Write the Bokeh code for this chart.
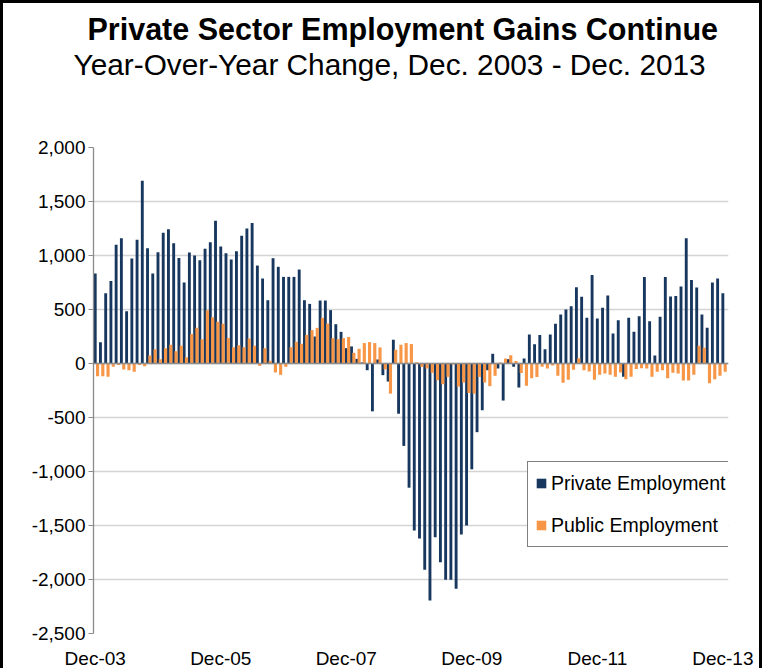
from bokeh.plotting import figure
from bokeh.models import (ColumnDataSource, Range1d, FixedTicker, NumeralTickFormatter,
                          Span, Title, Legend, LegendItem)
from bokeh.transform import dodge
from bokeh.embed import file_html
from bokeh.resources import INLINE

# Months since Dec 2003 (0 = Dec-03 ... 120 = Dec-13)
month_index = list(range(121))

# Year-over-year change, thousands of jobs
private = [
    833, 197, 651, 765, 1099, 1160, 484, 972, 1145, 1691, 1068, 833,
    1031, 1210, 1244, 1114, 978, 750, 1028, 1000, 957, 1062, 1123, 1321,
    1083, 1021, 963, 1040, 1182, 1250, 1302, 907, 787, 586, 975, 895,
    802, 802, 802, 870, 586, 552, 250, 583, 583, 494, 364, 293,
    142, 158, 43, 10, -62, -443, 37, -108, -167, 220, -465, -763,
    -1150, -1547, -1621, -1910, -2195, -1609, -1841, -2003, -2003, -2086, -1584, -1500,
    -980, -636, -433, -62, 90, -46, -343, 40, -31, -222, 46, 269,
    179, 263, 133, 269, 368, 454, 501, 531, 705, 618, 423, 819,
    417, 516, 630, 278, 401, -123, 423, 293, 438, 802, 392, 74,
    432, 802, 620, 626, 713, 1160, 772, 704, 454, 330, 750, 787,
    651,
]
public = [
    -117, -117, -123, -31, -15, -56, -62, -77, -15, -25, 74, 133,
    40, 142, 173, 114, 164, 59, 272, 330, 225, 494, 429, 386,
    367, 235, 151, 170, 151, 231, 164, -22, 142, 25, -83, -105,
    -31, 151, 200, 182, 265, 309, 330, 423, 370, 235, 225, 235,
    245, 99, 136, 189, 198, 189, 149, -53, -279, 127, 174, 189,
    180, 12, -31, -46, -87, -155, -192, -124, -10, -214, -177, -273,
    -279, -124, -176, -210, -114, 10, 46, 77, 22, -87, -207, -136,
    -124, -31, -46, -19, -114, -179, -151, -59, 49, -62, -74, -151,
    -105, -93, -105, -123, -83, -145, -123, -52, -43, -46, -123, -77,
    -62, -136, -86, -93, -157, -157, -105, 164, 145, -182, -145, -114,
    -77,
]

tick_months = [0, 24, 48, 72, 96, 120]
tick_labels = ["Dec-03", "Dec-05", "Dec-07", "Dec-09", "Dec-11", "Dec-13"]
y_ticks = [-2500, -2000, -1500, -1000, -500, 0, 500, 1000, 1500, 2000]
series_names = ["Private Employment", "Public Employment"]
series_colors = ["#17375E", "#F79646"]
title_text = "Private Sector Employment Gains Continue"
subtitle_text = "Year-Over-Year Change, Dec. 2003 - Dec. 2013"

FONT = "Liberation Sans"

src = ColumnDataSource(dict(m=month_index, private=private, public=public))

p = figure(width=762, height=668, output_backend="svg", toolbar_location=None,
           x_range=Range1d(-0.33, 121.08), y_range=Range1d(-2500, 2000),
           min_border_left=90, min_border_right=37, min_border_top=144,
           min_border_bottom=38, background_fill_color="white",
           border_fill_color="white")
p.outline_line_color = None
p.styles = {"border-left": "3px solid black", "border-top": "3px solid black",
            "border-right": "3px solid black"}

r_priv = p.vbar(x=dodge("m", 0.0, range=p.x_range), top="private", bottom=0,
                width=0.55, source=src, fill_color=series_colors[0], line_color=None)
r_pub = p.vbar(x=dodge("m", 0.45, range=p.x_range), top="public", bottom=0,
               width=0.6, source=src, fill_color=series_colors[1], line_color=None)

p.add_layout(Span(location=0, dimension="width", line_color="#8c8c8c", line_width=1.3))

# grid
p.xgrid.visible = False
p.ygrid.ticker = FixedTicker(ticks=y_ticks)
p.ygrid.grid_line_color = "#d4d4d4"
p.ygrid.grid_line_width = 1.3

# y axis
ya = p.yaxis[0]
ya.ticker = FixedTicker(ticks=y_ticks)
ya.formatter = NumeralTickFormatter(format="0,0")
ya.axis_line_color = "#8c8c8c"
ya.axis_line_width = 1.3
ya.major_tick_line_color = "#8c8c8c"
ya.major_tick_out = 5
ya.major_tick_in = 0
ya.minor_tick_line_color = None
ya.major_label_standoff = 3
ya.major_label_text_font = FONT
ya.major_label_text_font_size = "19px"
ya.major_label_text_color = "black"

# x axis
xa = p.xaxis[0]
xa.ticker = FixedTicker(ticks=tick_months)
xa.major_label_overrides = {m: lab for m, lab in zip(tick_months, tick_labels)}
xa.axis_line_color = None
xa.major_tick_line_color = None
xa.minor_tick_line_color = None
xa.major_tick_out = 0
xa.major_tick_in = 0
xa.major_label_standoff = 14
xa.major_label_text_font = FONT
xa.major_label_text_font_size = "19px"
xa.major_label_text_color = "black"

legend = Legend(items=[LegendItem(label=series_names[0], renderers=[r_priv]),
                       LegendItem(label=series_names[1], renderers=[r_pub])],
                location=(434, 86), orientation="vertical",
                border_line_color="black", border_line_width=1,
                background_fill_color="white", background_fill_alpha=1.0,
                label_text_font=FONT, label_text_font_size="19.5px",
                label_text_color="black",
                glyph_width=12, glyph_height=12, label_standoff=4,
                padding=7, spacing=14, label_height=28, margin=0)
p.add_layout(legend)

# panels above the plot: the one added first sits closest to the plot
p.add_layout(Title(text=" ", text_font=FONT, text_font_size="10px",
                   standoff=54), "above")
p.add_layout(Title(text=subtitle_text, align="left", offset=-20,
                   standoff=0, text_font=FONT, text_font_size="29.8px",
                   text_line_height=0.8,
                   text_font_style="normal", text_color="black"), "above")
p.add_layout(Title(text=title_text, align="left", offset=-6,
                   standoff=0, text_font=FONT, text_font_size="30.5px",
                   text_font_style="bold", text_color="black"), "above")

open("out.html", "w").write(file_html(p, INLINE))
